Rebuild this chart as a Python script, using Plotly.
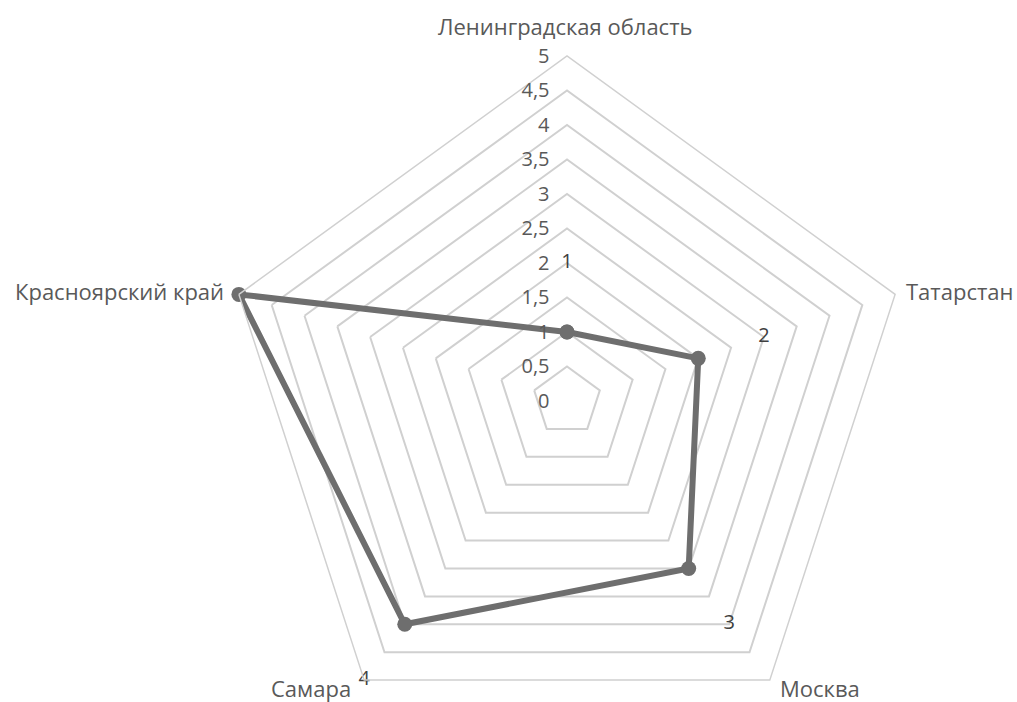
import math
import plotly.graph_objects as go

# ---- data ----
categories = ["Ленинградская область", "Татарстан", "Москва", "Самара", "Красноярский край"]
values = [1, 2, 3, 4, 5]
radial_tickvals = [0, 0.5, 1, 1.5, 2, 2.5, 3, 3.5, 4, 4.5, 5]
label_shift = 1  # data labels sit one unit further out along their own axis

# ---- styling ----
LINE = "#6e6e6e"
GRID = "#d0d0d0"
TEXT = "#595959"
FONT = "Open Sans"

theta_closed = categories + [categories[0]]
r_closed = values + [values[0]]

fig = go.Figure()
fig.add_trace(go.Scatterpolar(
    r=r_closed, theta=theta_closed,
    mode="lines+markers",
    line=dict(color=LINE, width=6),
    marker=dict(color=LINE, size=15),
    showlegend=False, hoverinfo="skip",
))
fig.add_trace(go.Scatterpolar(
    r=[v + label_shift for v in values], theta=categories,
    mode="text", text=[str(v) for v in values],
    textfont=dict(family=FONT, size=20, color="#404040"),
    textposition="middle center",
    cliponaxis=False, showlegend=False, hoverinfo="skip",
))

W, H = 1017, 750
cx, cy, R = 567, 401, 345  # centre (px from top-left) and outer radius

# category labels placed just outside the outer pentagon vertices
label_place = [  # (xanchor, xshift, yshift)
    ("center", -2, 30),
    ("left", 9, 3),
    ("left", 8, -8),
    ("right", -11, -8),
    ("right", -13, 3),
]
annotations = []
n = len(categories)
for i, name in enumerate(categories):
    ang = math.radians(90 - 360 * i / n)
    vx = cx + R * math.cos(ang)
    vy = cy - R * math.sin(ang)
    xa, xs, ys = label_place[i]
    annotations.append(dict(
        text=name, xref="paper", yref="paper",
        x=vx / W, y=(H - vy) / H, xanchor=xa, yanchor="middle",
        xshift=xs, yshift=ys, showarrow=False,
        font=dict(family=FONT, size=22, color=TEXT),
    ))

fig.update_layout(
    width=W, height=H,
    margin=dict(l=0, r=0, t=0, b=0),
    paper_bgcolor="white", plot_bgcolor="white",
    separators=", ",
    font=dict(family=FONT, size=20, color=TEXT),
    annotations=annotations,
    polar=dict(
        domain=dict(x=[(cx - R) / W, (cx + R) / W],
                    y=[(H - cy - R) / H, (H - cy + R) / H]),
        bgcolor="white",
        gridshape="linear",
        radialaxis=dict(
            range=[0, 5], tickvals=radial_tickvals,
            angle=90, side="counterclockwise", tickangle=90,
            showline=False, ticks="outside", ticklen=10,
            tickcolor="rgba(0,0,0,0)",
            gridcolor=GRID, gridwidth=1.5,
            tickfont=dict(family=FONT, size=20, color=TEXT),
        ),
        angularaxis=dict(
            direction="clockwise", rotation=90,
            showgrid=False, showline=True, linecolor=GRID, linewidth=1.5,
            showticklabels=False, ticks="",
        ),
    ),
)

fig.write_html(
    "out.html",
    config={"displayModeBar": False},
    post_script="document.documentElement.style.overflow='hidden';"
                "document.body.style.overflow='hidden';document.body.style.margin='0';",
)
